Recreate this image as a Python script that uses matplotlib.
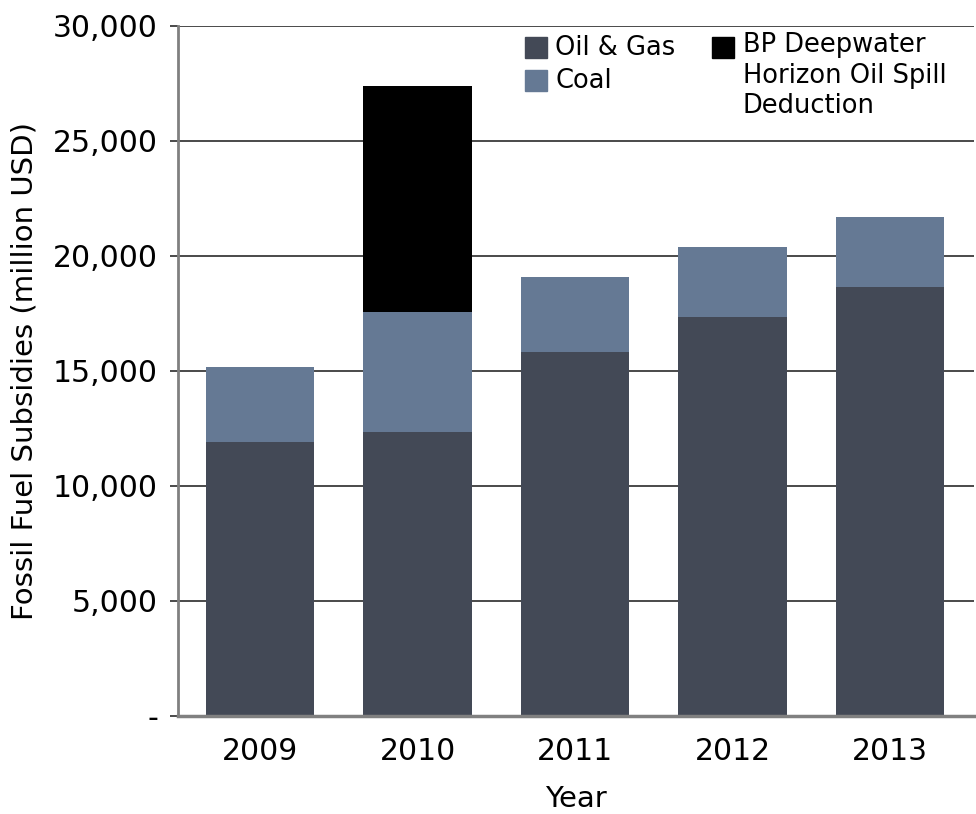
import matplotlib
matplotlib.use("Agg")
import matplotlib.pyplot as plt
import numpy as np
from matplotlib.patches import Rectangle
from matplotlib.ticker import FuncFormatter

years = ["2009", "2010", "2011", "2012", "2013"]
oil_gas = [11910, 12340, 15820, 17340, 18640]
coal = [3260, 5220, 3270, 3060, 3060]
bp_spill = [0, 9800, 0, 0, 0]

c_oil = "#434956"
c_coal = "#657994"
c_bp = "#000000"
grid_c = "#3c3c3c"

plt.rcParams["font.family"] = "DejaVu Sans"

fig = plt.figure(figsize=(9.76, 8.14), dpi=100)
ax = fig.add_axes([0.1819, 0.1204, 0.998 - 0.1819, 0.9684 - 0.1204])

x = np.arange(len(years))
w = 0.69
base2 = np.array(oil_gas) + np.array(coal)
ax.bar(x, oil_gas, w, color=c_oil, zorder=2)
ax.bar(x, coal, w, bottom=oil_gas, color=c_coal, zorder=2)
ax.bar(x, bp_spill, w, bottom=base2, color=c_bp, zorder=2)

ax.set_xlim(-0.524, 4.533)
ax.set_ylim(0, 30000)
ax.set_yticks(np.arange(0, 30001, 5000))
ax.yaxis.set_major_formatter(FuncFormatter(lambda v, p: "-" if v == 0 else f"{int(v):,}"))
ax.set_xticks(x)
ax.set_xticklabels(years)

ax.grid(axis="y", color=grid_c, lw=1.3, zorder=1)
ax.set_axisbelow(True)
for s in ["top", "right"]:
    ax.spines[s].set_visible(False)
ax.spines["left"].set_color("#808080")
ax.spines["left"].set_linewidth(2)
ax.spines["bottom"].set_color("#808080")
ax.spines["bottom"].set_linewidth(2.5)
ax.spines["bottom"].set_zorder(3)

ax.tick_params(axis="y", length=6, width=1.3, color=grid_c, pad=8, labelsize=21.5)
ax.tick_params(axis="x", length=0, pad=15, labelsize=21.5)

ax.set_ylabel("Fossil Fuel Subsidies (million USD)", fontsize=21)
ax.yaxis.set_label_coords(-0.175, 0.5)
ax.set_xlabel("Year", fontsize=21)
ax.xaxis.set_label_coords(0.5, -0.1)

# legend drawn by hand so the square sits beside the first line of the long label
sq_w, sq_h = 0.0276, 0.0304
items = [
    (0.4363, 0.9532, c_oil, "Oil & Gas"),
    (0.4363, 0.9054, c_coal, "Coal"),
]
for lx, ly, col, lab in items:
    ax.add_patch(Rectangle((lx, ly), sq_w, sq_h, transform=ax.transAxes,
                           color=col, clip_on=False, zorder=4))
    ax.text(lx + 0.0377, ly + sq_h / 2, lab, transform=ax.transAxes,
            fontsize=18.5, va="center", ha="left", zorder=4)
ax.add_patch(Rectangle((0.6711, 0.9532), sq_w, sq_h, transform=ax.transAxes,
                       color=c_bp, clip_on=False, zorder=4))
ax.text(0.7099, 0.9905, "BP Deepwater\nHorizon Oil Spill\nDeduction",
        transform=ax.transAxes, fontsize=18.5, va="top", ha="left",
        linespacing=1.22, zorder=4)

fig.savefig("out.png", dpi=100)
